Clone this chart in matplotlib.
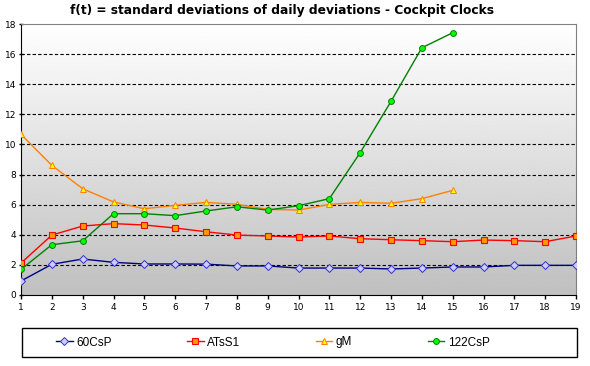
import numpy as np
from matplotlib import pyplot as plt
from matplotlib.patches import Rectangle

days = list(range(1, 20))

csp60 = [0.93, 2.04, 2.39, 2.17, 2.06, 2.06, 2.05, 1.93, 1.93, 1.79,
         1.79, 1.79, 1.73, 1.79, 1.86, 1.86, 1.97, 1.97, 1.97]
atss1 = [2.12, 3.98, 4.58, 4.74, 4.65, 4.45, 4.2, 3.98, 3.92, 3.85,
         3.92, 3.74, 3.67, 3.61, 3.54, 3.65, 3.61, 3.54, 3.92]
gm = [10.67, 8.61, 7.06, 6.18, 5.73, 5.95, 6.15, 6.02, 5.69, 5.64,
      6.02, 6.15, 6.09, 6.4, 6.95]
csp122 = [1.7, 3.34, 3.6, 5.4, 5.4, 5.27, 5.58, 5.86, 5.64, 5.93,
          6.4, 9.45, 12.86, 16.42, 17.42]

fig = plt.figure(figsize=(5.9, 3.66), dpi=100)
ax = fig.add_axes([21 / 590, 1 - 295 / 366, 555 / 590, 271 / 366])

# gradient background, white at top to grey at bottom
grad = np.linspace(1, 0, 256).reshape(-1, 1)
ax.imshow(grad, cmap=plt.cm.gray, vmin=-3.0, vmax=1, aspect='auto',
          extent=[0, 1, 0, 1], transform=ax.transAxes, zorder=0)

ax.plot(days, csp60, color='#000080', lw=1, marker='D', ms=4,
        mfc='#ccccff', mec='#3333cc', mew=0.7, label='60CsP', zorder=3)
ax.plot(days, atss1, color='#ff0000', lw=1, marker='s', ms=4.5,
        mfc='#ff9900', mec='#ff0000', mew=0.8, label='ATsS1', zorder=3)
ax.plot(days[:len(gm)], gm, color='#ff8000', lw=1, marker='^', ms=5,
        mfc='#ffff00', mec='#ff8000', mew=0.7, label='gM', zorder=3)
ax.plot(days[:len(csp122)], csp122, color='#008000', lw=1, marker='o', ms=4.2,
        mfc='#00ff00', mec='#008000', mew=0.7, label='122CsP', zorder=3)

ax.set_xlim(1, 19)
ax.set_ylim(0, 18)
ax.set_xticks(days)
ax.set_yticks(np.arange(0, 20, 2))
for yv in range(2, 18, 2):
    ax.axhline(yv, color='black', lw=0.8, ls=(0, (3, 2)), zorder=1)
ax.tick_params(axis='y', labelsize=6.5, length=3, direction='inout', width=1, pad=2)
ax.tick_params(axis='x', labelsize=6.5, length=3, direction='out', width=1, pad=3)
ax.spines['left'].set_color('black')
ax.spines['bottom'].set_color('black')
ax.spines['top'].set_color('#808080')
ax.spines['right'].set_color('#808080')

fig.text(0.478, 0.972, 'f(t) = standard deviations of daily deviations - Cockpit Clocks',
         ha='center', va='center', fontsize=8.8, fontweight='bold')

# legend box under the chart
fig.patches.append(Rectangle((22 / 590, 9 / 366), 555 / 590, 29 / 366,
                             transform=fig.transFigure, fill=False,
                             edgecolor='black', lw=1))
handles, labels = ax.get_legend_handles_labels()
fig.legend(handles, labels, ncol=4, frameon=False,
           loc='center left', bbox_to_anchor=(56 / 590, 23.5 / 366),
           prop={'family': 'Liberation Sans', 'size': 8.5},
           handlelength=1.4, handletextpad=0.3, columnspacing=6.4,
           borderaxespad=0, borderpad=0)

plt.savefig('out.png', dpi=100)
